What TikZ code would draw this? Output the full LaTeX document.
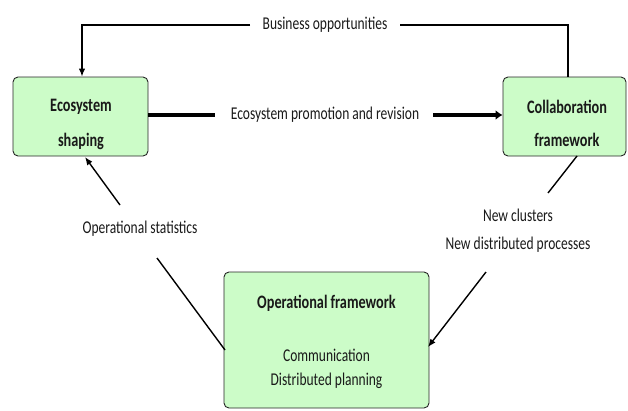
\documentclass[tikz,border=0pt]{standalone}
\usepackage{fontspec}
\setmainfont{Carlito}[FakeStretch=0.75]
\usetikzlibrary{arrows.meta}
\definecolor{boxgreen}{RGB}{204,252,200}
\definecolor{txt}{RGB}{25,25,25}
\tikzset{
  box/.style={draw=black!85, line width=0.9pt, fill=boxgreen, rounded corners=5pt, inner sep=0pt, text=txt},
  btxt/.style={font=\bfseries\fontsize{19}{21}\selectfont, text=txt, inner sep=0pt},
  lbl/.style={inner sep=0pt, text=txt, font=\fontsize{18}{20}\selectfont, align=center},
  conn/.style={line width=1.4pt, draw=black},
  arr/.style={conn, -{Latex[length=8pt,width=6.5pt]}},
  thickarr/.style={line width=3.6pt, draw=black, -{Latex[length=7pt,width=10pt]}},
  thickline/.style={line width=3.6pt, draw=black}
}
\begin{document}
\begin{tikzpicture}[x=1pt,y=-1pt]
\useasboundingbox (0,0) rectangle (628,410);
% boxes
\node[box, minimum width=135pt, minimum height=79pt] (eco) at (80.5,116.5) {};
\node[btxt] (ecot1) at (81,107) {Ecosystem};
\node[btxt] (ecot2) at (81,141) {shaping};
\node[box, minimum width=123pt, minimum height=79pt] (col) at (564.5,116.5) {};
\node[btxt] (colt1) at (567,107) {Collaboration};
\node[btxt] (colt2) at (567,140) {framework};
\node[box, minimum width=205pt, minimum height=136pt] (op) at (326.5,340) {};
\node[btxt] (opt1) at (326.5,303) {Operational framework};
\node[lbl] (opt2) at (326.5,355) {Communication};
\node[lbl] (opt3) at (326.5,381) {Distributed planning};
% labels
\node[lbl] (bo) at (325,25) {Business opportunities};
\node[lbl] (pr) at (325,115) {Ecosystem promotion and revision};
\node[lbl] (os) at (140,229) {Operational statistics};
\node[lbl] (nc1) at (518,215) {New clusters};
\node[lbl] (nc2) at (518,245) {New distributed processes};
% connector points
\coordinate (boL) at (250,25);
\coordinate (boR) at (400,25);
\coordinate (prL) at (215,115);
\coordinate (prR) at (433,115);
\coordinate (osU) at (120,205);
\coordinate (osD) at (157,258);
\coordinate (ecoIn) at (85,157);
\coordinate (opInL) at (225,350);
\coordinate (ncU) at (548,193);
\coordinate (ncD) at (486,272);
\coordinate (colOut) at (577,156);
\coordinate (opInR) at (428,347);
% connectors
\draw[conn] ([xshift=3.5pt]col.north) |- (boR);
\draw[arr] (boL) -| ([xshift=1.5pt]eco.north);
\draw[thickline] (eco.east |- prL) -- (prL);
\draw[thickarr] (prR) -- (col.west |- prR);
\draw[arr] (osU) -- (ecoIn);
\draw[conn] (opInL) -- (osD);
\draw[conn] (colOut) -- (ncU);
\draw[arr] (ncD) -- (opInR);
\end{tikzpicture}
\end{document}
